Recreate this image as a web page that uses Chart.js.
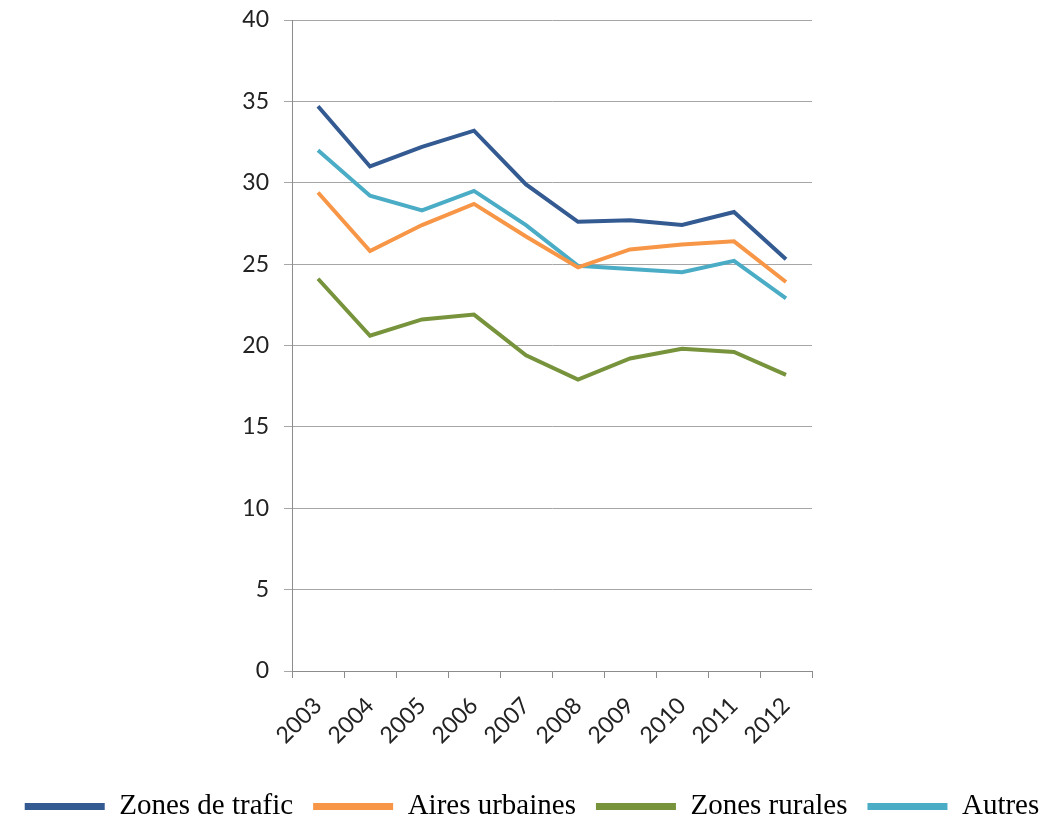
<!DOCTYPE html>
<html>
<head>
<meta charset="utf-8">
<script src="https://cdn.jsdelivr.net/npm/chart.js@4"></script>
<style>
  html, body { margin: 0; padding: 0; background: #fff; }
  #wrap { width: 1064px; height: 820px; }
</style>
</head>
<body>
<div id="wrap"><canvas id="chart"></canvas></div>
<script>
// ── Data ──
const years = ["2003", "2004", "2005", "2006", "2007", "2008", "2009", "2010", "2011", "2012"];
const zonesTrafic = [34.7, 31.0, 32.2, 33.2, 29.9, 27.6, 27.7, 27.4, 28.2, 25.3];
const airesUrbaines = [29.4, 25.8, 27.4, 28.7, 26.7, 24.8, 25.9, 26.2, 26.4, 23.9];
const zonesRurales = [24.1, 20.6, 21.6, 21.9, 19.4, 17.9, 19.2, 19.8, 19.6, 18.2];
const autres = [32.0, 29.2, 28.3, 29.5, 27.4, 24.9, 24.7, 24.5, 25.2, 22.9];
const seriesNames = ["Zones de trafic", "Aires urbaines", "Zones rurales", "Autres"];
const yTicks = [0, 5, 10, 15, 20, 25, 30, 35, 40];

const colors = ["#345a92", "#f79646", "#77933c", "#4bacc6"];
const tickFont = { family: "Lato, 'Open Sans', sans-serif", size: 23 };

const makeSet = (i, data) => ({
  label: seriesNames[i],
  data,
  borderColor: colors[i],
  backgroundColor: colors[i],
  borderWidth: 4,
  pointRadius: 0,
  tension: 0,
  fill: false,
});

new Chart(document.getElementById("chart"), {
  type: "line",
  data: {
    labels: years,
    datasets: [
      makeSet(0, zonesTrafic),
      makeSet(1, airesUrbaines),
      makeSet(2, zonesRurales),
      makeSet(3, autres),
    ],
  },
  options: {
    responsive: true,
    maintainAspectRatio: false,
    animation: false,
    layout: { padding: { top: 20, right: 0, left: 0, bottom: -11 } },
    plugins: {
      tooltip: { enabled: false },
      legend: {
        position: "bottom",
        labels: {
          color: "#000",
          font: { family: "'Liberation Serif', serif", size: 29 },
          boxWidth: 80,
          boxHeight: 7,
          padding: 20,
          generateLabels: (chart) =>
            chart.data.datasets.map((ds, i) => ({
              text: ds.label,
              fillStyle: ds.borderColor,
              strokeStyle: ds.borderColor,
              lineWidth: 0,
              datasetIndex: i,
              hidden: false,
            })),
        },
      },
    },
    scales: {
      x: {
        offset: true,
        grid: {
          offset: true,
          drawOnChartArea: false,
          drawTicks: true,
          tickLength: 7,
          color: "#8c8c8c",
        },
        border: { color: "#8c8c8c", width: 1 },
        ticks: {
          color: "#222",
          font: tickFont,
          minRotation: 45,
          maxRotation: 45,
          padding: 14,
        },
        afterFit: (scale) => { scale.height = 101; },
      },
      y: {
        min: 0,
        max: 40,
        afterBuildTicks: (scale) => { scale.ticks = yTicks.map((v) => ({ value: v })); },
        grid: { color: "#a6a6a6", tickLength: 8 },
        border: { color: "#8c8c8c", width: 1 },
        ticks: { color: "#222", font: tickFont, padding: 15 },
        afterFit: (scale) => {
          scale.width = 292;
          scale.paddingTop = 0;
          scale.paddingBottom = 0;
        },
      },
      // empty right-hand axis that just reserves the blank space beside the plot
      yRight: {
        position: "right",
        display: true,
        grid: { display: false, drawTicks: false },
        border: { display: false },
        ticks: { display: false },
        afterFit: (scale) => { scale.width = 252; },
      },
    },
  },
});
</script>
</body>
</html>
